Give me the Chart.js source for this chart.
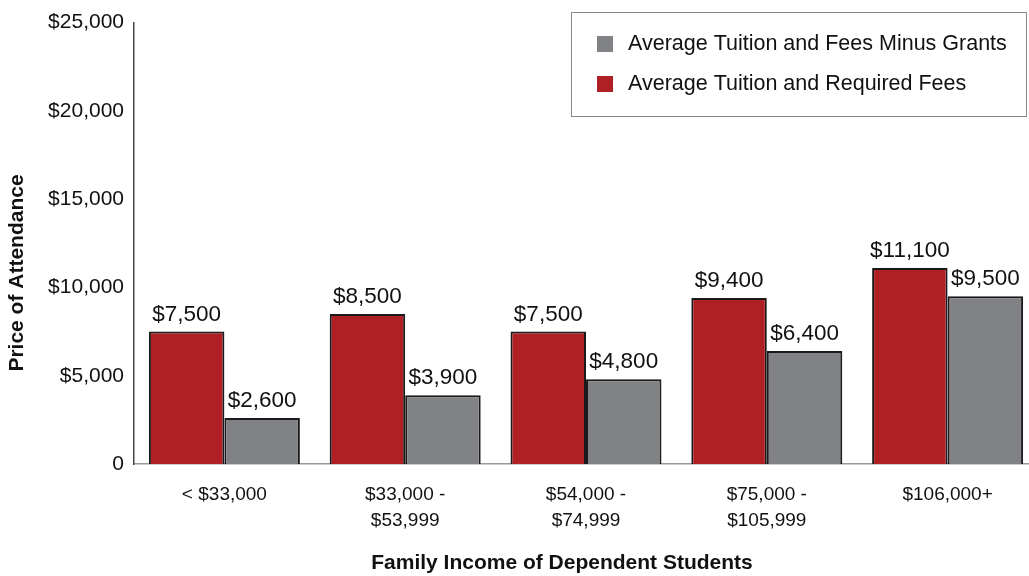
<!DOCTYPE html>
<html>
<head>
<meta charset="utf-8">
<script src="https://cdn.jsdelivr.net/npm/chart.js@4.4.1/dist/chart.umd.min.js"></script>
<style>
  html, body { margin: 0; padding: 0; background: #fff; overflow: hidden; }
  #wrap { width: 1029px; height: 576px; overflow: hidden; }
</style>
</head>
<body>
<div id="wrap"><canvas id="price-chart" width="1041" height="576"></canvas></div>
<script>
// data
const incomeGroups = [
    ['< $33,000'],
    ['$33,000 -', '$53,999'],
    ['$54,000 -', '$74,999'],
    ['$75,000 -', '$105,999'],
    ['$106,000+']
];
const tuitionFees = [7500, 8500, 7500, 9400, 11100];
const minusGrants = [2600, 3900, 4800, 6400, 9500];
const yTickLabels = ['0', '$5,000', '$10,000', '$15,000', '$20,000', '$25,000'];
const xTitle = 'Family Income of Dependent Students';
const yTitle = 'Price of Attendance';

const FONT = "'Liberation Sans', Arial, sans-serif";
const RED = '#b01f24';
const GRAY = '#808285';

function money(v) {
    return '$' + v.toLocaleString('en-US');
}

// value labels above each bar
const barLabels = {
    id: 'barLabels',
    afterDatasetsDraw(chart) {
        const ctx = chart.ctx;
        ctx.save();
        ctx.font = '22.5px ' + FONT;
        ctx.fillStyle = '#111';
        ctx.textAlign = 'center';
        ctx.textBaseline = 'alphabetic';
        chart.data.datasets.forEach((ds, i) => {
            chart.getDatasetMeta(i).data.forEach((bar, j) => {
                ctx.fillText(money(ds.data[j]), bar.x, bar.y - 11);
            });
        });
        ctx.restore();
    }
};

// axis titles, placed where the original has them
const axisTitles = {
    id: 'axisTitles',
    afterDraw(chart) {
        const ctx = chart.ctx;
        ctx.save();
        ctx.font = 'bold 21px ' + FONT;
        ctx.fillStyle = '#111';
        ctx.textAlign = 'center';
        ctx.textBaseline = 'middle';
        ctx.fillText(xTitle, 562, 563);
        ctx.translate(17, 273);
        ctx.rotate(-Math.PI / 2);
        ctx.fillText(yTitle, 0, 0);
        ctx.restore();
    }
};

// boxed legend sitting inside the plot, top right
const boxLegend = {
    id: 'boxLegend',
    afterDraw(chart) {
        const ctx = chart.ctx;
        const left = 571, top = 12, right = 1026, bottom = 116;
        ctx.save();
        ctx.strokeStyle = '#8a8a8a';
        ctx.lineWidth = 1;
        ctx.strokeRect(left + 0.5, top + 0.5, right - left, bottom - top);
        ctx.font = '21.5px ' + FONT;
        ctx.textBaseline = 'middle';
        ctx.textAlign = 'left';
        const items = chart.data.datasets.slice().reverse();
        items.forEach((ds, i) => {
            const cy = 44 + i * 40;
            ctx.fillStyle = ds.backgroundColor;
            ctx.fillRect(597, cy - 8, 16, 16);
            ctx.fillStyle = '#111';
            ctx.fillText(ds.label, 628, cy);
        });
        ctx.restore();
    }
};

new Chart(document.getElementById('price-chart').getContext('2d'), {
    type: 'bar',
    data: {
        labels: incomeGroups,
        datasets: [{
            label: 'Average Tuition and Required Fees',
            data: tuitionFees,
            backgroundColor: RED,
            borderColor: '#1a1a1a',
            borderWidth: 2,
            categoryPercentage: 0.835,
            barPercentage: 1.0
        }, {
            label: 'Average Tuition and Fees Minus Grants',
            data: minusGrants,
            backgroundColor: GRAY,
            borderColor: '#1a1a1a',
            borderWidth: 2,
            categoryPercentage: 0.835,
            barPercentage: 1.0
        }]
    },
    options: {
        responsive: false,
        animation: false,
        layout: { padding: { top: 8, right: 3, left: 4, bottom: 0 } },
        plugins: {
            legend: { display: false },
            tooltip: { enabled: false }
        },
        scales: {
            x: {
                grid: { display: false, drawTicks: false },
                border: { display: true, color: '#9a9a9a', width: 1.5 },
                ticks: {
                    color: '#111',
                    font: { family: FONT, size: 19, lineHeight: 1.4 },
                    padding: 17,
                    maxRotation: 0
                },
                afterFit(scale) { scale.height = 112; }
            },
            y: {
                min: 0,
                max: 25000,
                grid: { display: false, drawTicks: false },
                border: { display: true, color: '#444', width: 1.5 },
                ticks: {
                    stepSize: 5000,
                    color: '#111',
                    font: { family: FONT, size: 21 },
                    padding: 10,
                    callback: (v, i) => yTickLabels[i]
                },
                afterFit(scale) { scale.width = 130; }
            }
        }
    },
    plugins: [barLabels, axisTitles, boxLegend]
});
</script>
</body>
</html>
